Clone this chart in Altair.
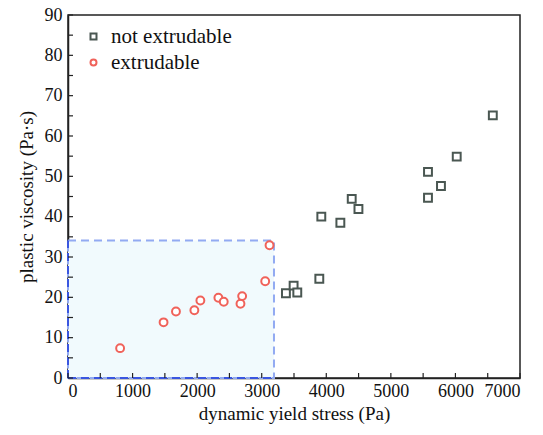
import altair as alt
import pandas as pd

# Data
ne_x = [3375, 3494, 3551, 3892, 3923, 4218, 4394, 4498, 5575, 5575, 5776, 6020, 6579]
ne_y = [21.0, 22.9, 21.2, 24.6, 40.0, 38.5, 44.4, 41.9, 44.7, 51.1, 47.6, 54.9, 65.1]
ex_x = [807, 1480, 1672, 1957, 2050, 2329, 2412, 2671, 2697, 3054, 3121]
ex_y = [7.4, 13.8, 16.5, 16.8, 19.2, 19.9, 18.9, 18.4, 20.3, 24.0, 32.9]
region_x = [0, 3190]
region_y = [0, 34.1]
x_ticks = list(range(0, 7001, 500))
y_ticks = list(range(0, 91, 5))

cat_ne = "not extrudable"
cat_ex = "extrudable"

pts = pd.DataFrame({
    "x": ne_x + ex_x,
    "y": ne_y + ex_y,
    "cat": [cat_ne] * len(ne_x) + [cat_ex] * len(ex_x),
})
region = pd.DataFrame({"x": [region_x[0]], "x2": [region_x[1]], "y": [region_y[0]], "y2": [region_y[1]]})
xt = pd.DataFrame({"v": x_ticks})
yt = pd.DataFrame({"v": y_ticks})

W, H = 452, 363
FONT = "Liberation Serif"

xs = alt.Scale(domain=[0, 7000], nice=False, zero=False)
ys = alt.Scale(domain=[0, 90], nice=False, zero=False)

base_x = alt.X("x:Q", scale=xs, title="dynamic yield stress (Pa)",
               axis=alt.Axis(values=list(range(0, 7001, 1000)), format="d", ticks=False,
                             labelPadding=4, titlePadding=4, grid=False))
base_y = alt.Y("y:Q", scale=ys, title="plastic viscosity (Pa·s)",
               axis=alt.Axis(values=list(range(0, 91, 10)), format="d", ticks=False,
                             labelPadding=6, titlePadding=8, grid=False))

rect = alt.Chart(region).mark_rect(
    fill="#f1fafd", stroke="#92aaf2", strokeWidth=2, strokeDash=[8, 5]
).encode(x=base_x, x2="x2:Q", y=base_y, y2="y2:Q")

left_edge = alt.Chart(region).mark_rule(color="#3a56e0", strokeWidth=2, strokeDash=[8, 5]).encode(
    x=alt.X("x:Q", scale=xs), y=alt.Y("y:Q", scale=ys), y2="y2:Q")
bottom_edge = alt.Chart(region).mark_rule(color="#3a56e0", strokeWidth=2, strokeDash=[8, 5]).encode(
    x=alt.X("x:Q", scale=xs), x2="x2:Q", y=alt.Y("y:Q", scale=ys))

xticks = alt.Chart(xt).mark_rule(color="#222", strokeWidth=1.2).encode(
    x=alt.X("v:Q", scale=xs), y=alt.value(H), y2=alt.value(H - 5))
yticks = alt.Chart(yt).mark_rule(color="#222", strokeWidth=1.2).encode(
    y=alt.Y("v:Q", scale=ys), x=alt.value(0), x2=alt.value(5))

leg = alt.Legend(title=None, orient="none", legendX=15, legendY=11,
                 labelFont=FONT, labelFontSize=21, labelColor="#111",
                 symbolSize=36, symbolStrokeWidth=2, rowPadding=4,
                 labelOffset=7)

points = alt.Chart(pts).mark_point(filled=False, strokeWidth=2, opacity=1, size=62,
                                   fill="white").encode(
    x=alt.X("x:Q", scale=xs),
    y=alt.Y("y:Q", scale=ys),
    shape=alt.Shape("cat:N", scale=alt.Scale(domain=[cat_ne, cat_ex], range=["square", "circle"]),
                    legend=leg),
    color=alt.Color("cat:N", scale=alt.Scale(domain=[cat_ne, cat_ex], range=["#4a5752", "#f0625a"]),
                    legend=leg),
)

chart = alt.layer(rect, left_edge, bottom_edge, xticks, yticks, points).properties(
    width=W, height=H,
    autosize=alt.AutoSizeParams(type="none"),
    padding={"left": 68, "top": 15, "right": 23, "bottom": 57},
).configure_view(stroke="#222", strokeWidth=1.5).configure_axis(
    labelFont=FONT, titleFont=FONT, labelFontSize=18, titleFontSize=19,
    labelColor="#111", titleColor="#111", titleFontWeight="normal",
    domainColor="#222", domainWidth=1.5,
)

chart.save("out.html", embed_options={"renderer": "svg", "actions": False})
